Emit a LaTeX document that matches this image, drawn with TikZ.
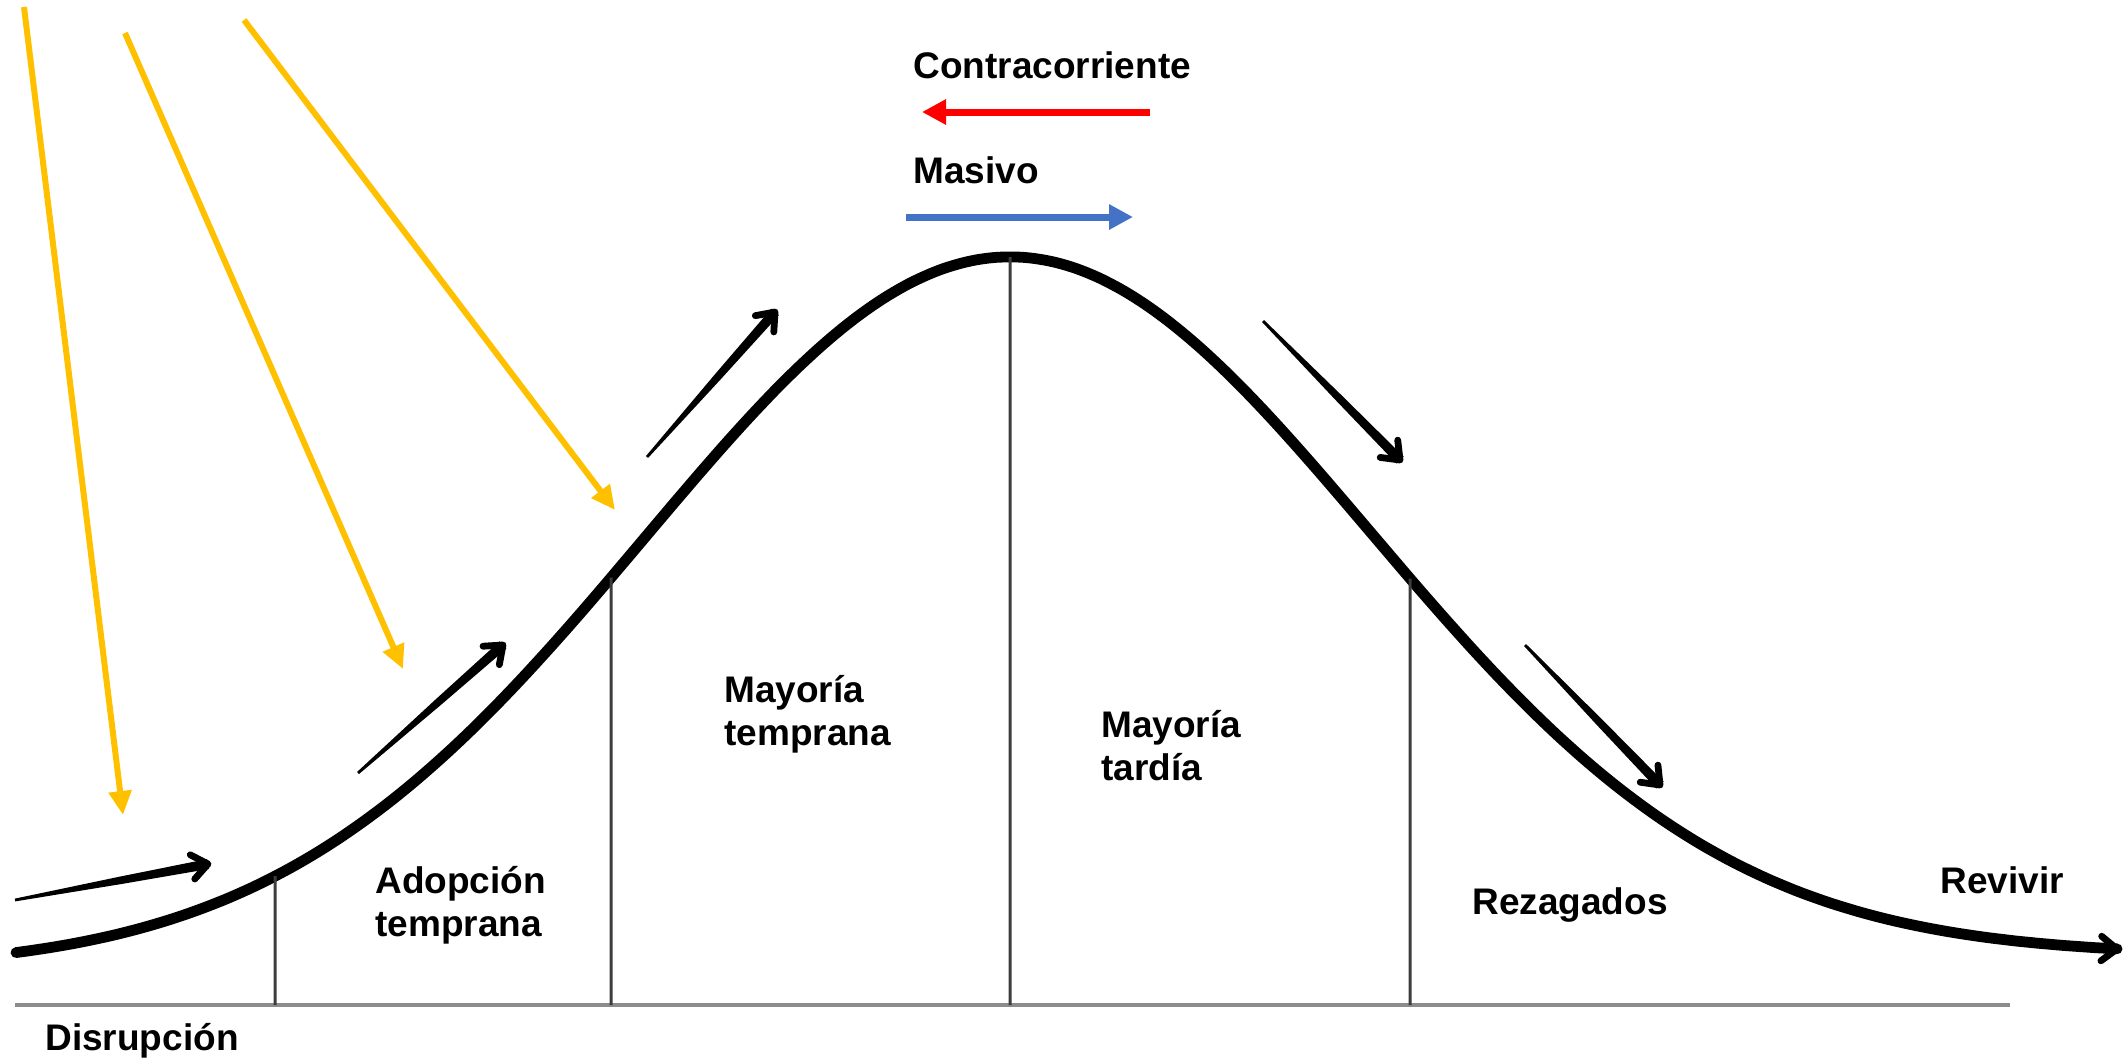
\documentclass[tikz,border=0pt]{standalone}
\usepackage{fontspec}
\setmainfont{Liberation Sans}
\usetikzlibrary{arrows.meta,calc,intersections}
\definecolor{gold}{HTML}{FFC000}
\definecolor{massblue}{HTML}{4472C4}
\definecolor{axisgray}{HTML}{8C8C8C}
\definecolor{divgray}{HTML}{3C3C3C}
\newcommand\handarrow[2]{%
  \coordinate (#1mid) at ($(#1)!0.55!(#2)$);
  \fill ($(#1)!0.7pt!90:(#2)$) -- ($(#1mid)!1.9pt!90:(#2)$) -- ($(#2)!2.5pt!-90:(#1)$)
     -- ($(#2)!2.5pt!90:(#1)$) -- ($(#1mid)!1.9pt!-90:(#2)$) -- ($(#1)!0.7pt!-90:(#2)$) -- cycle;
  \draw[line width=3.4pt,line cap=round,line join=round] ($(#2)!10pt!38:(#1)$) -- (#2) -- ($(#2)!10pt!-38:(#1)$);
}
\begin{document}
\begin{tikzpicture}[x=0.5pt,y=-0.5pt,
  lbl/.style={font=\fontsize{18.5}{22}\selectfont\bfseries,anchor=base west,inner sep=0pt},
  goldarrow/.style={draw=gold,line width=3pt,-{Triangle[length=12pt,width=11pt]}},
  flatarrow/.style={line width=3.5pt,-{Triangle[length=12pt,width=12pt]}},
  curvestyle/.style={line width=5.4pt,line cap=round,line join=round},
  divider/.style={draw=divgray,line width=1.5pt},
  axisline/.style={draw=axisgray,line width=2pt}]
\useasboundingbox (0,0) rectangle (2128,1062);

% axis
\coordinate (axL) at (15,1005);
\coordinate (axR) at (2010,1005);
\draw[axisline] (axL) -- (axR);

% main curve (asymmetric Gaussian)
\draw[curvestyle,name path=curve]
  plot[domain=16:1010,samples=90,smooth] (\x,{970-713*exp(-0.5*((\x-1010)/365)^2)})
  -- plot[domain=1010:2117,samples=100,smooth] (\x,{955-698*exp(-0.5*((\x-1010)/360)^2)});
\coordinate (endpre) at (2085,948);
\coordinate (endtip) at (2117,949);
\draw[line width=3.4pt,line cap=round,line join=round] ($(endtip)!10pt!38:(endpre)$) -- (endtip) -- ($(endtip)!10pt!-38:(endpre)$);

% dividers
\foreach \i/\x in {1/275,2/611,3/1010,4/1410}{
  \path[name path=v\i] (\x,0) -- (\x,1062);
  \path[name intersections={of=curve and v\i,by=t\i}];
  \coordinate (b\i) at (\x,1005);
  \draw[divider] (t\i) -- (b\i);
}

% yellow arrows
\coordinate (y1s) at (24,7);   \coordinate (y1e) at (123,815);
\coordinate (y2s) at (125,33); \coordinate (y2e) at (403,669);
\coordinate (y3s) at (244,20); \coordinate (y3e) at (615,510);
\draw[goldarrow] (y1s) -- (y1e);
\draw[goldarrow] (y2s) -- (y2e);
\draw[goldarrow] (y3s) -- (y3e);

% hand-drawn black arrows
\coordinate (a1s) at (15,900);   \coordinate (a1e) at (208,864);
\coordinate (a2s) at (358,773);  \coordinate (a2e) at (503,645);
\coordinate (a3s) at (647,457);  \coordinate (a3e) at (775,312);
\coordinate (a4s) at (1263,321); \coordinate (a4e) at (1400,460);
\coordinate (a5s) at (1525,645); \coordinate (a5e) at (1660,785);
\handarrow{a1s}{a1e}
\handarrow{a2s}{a2e}
\handarrow{a3s}{a3e}
\handarrow{a4s}{a4e}
\handarrow{a5s}{a5e}

% legend arrows
\coordinate (rs) at (1150,112); \coordinate (re) at (922,112);
\coordinate (bs) at (906,217);  \coordinate (be) at (1133,217);
\draw[flatarrow,draw=red] (rs) -- (re);
\draw[flatarrow,draw=massblue] (bs) -- (be);

% labels
\node[lbl] (contra) at (913,78) {Contracorriente};
\node[lbl] (masivo) at (913,183) {Masivo};
\node[lbl] (adop1) at (375,893) {Adopción};
\node[lbl] (adop2) at (375,936) {temprana};
\node[lbl] (mtemp1) at (724,702) {Mayoría};
\node[lbl] (mtemp2) at (724,745) {temprana};
\node[lbl] (mtard1) at (1101,737) {Mayoría};
\node[lbl] (mtard2) at (1101,780) {tardía};
\node[lbl] (rezag) at (1472,914) {Rezagados};
\node[lbl] (revivir) at (1940,893) {Revivir};
\node[lbl] (disr) at (45,1050) {Disrupción};
\end{tikzpicture}
\end{document}
